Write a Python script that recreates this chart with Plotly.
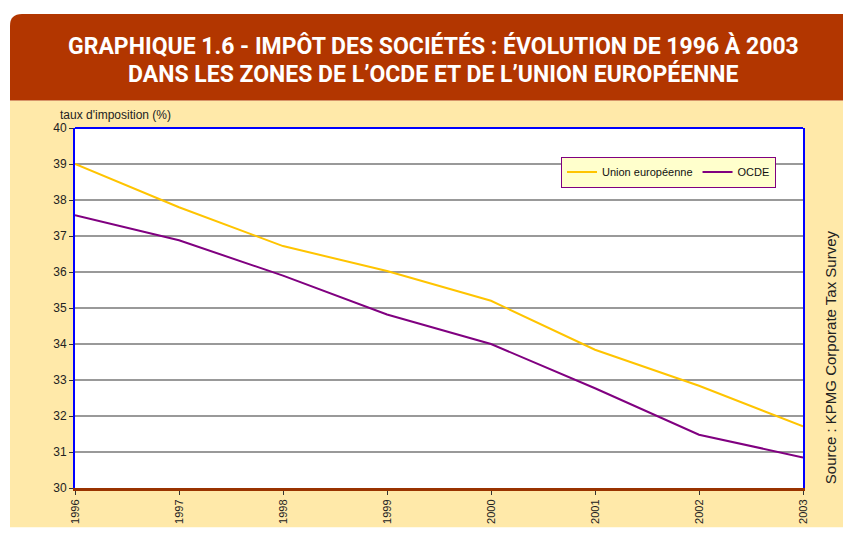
import plotly.graph_objects as go

years = [1996, 1997, 1998, 1999, 2000, 2001, 2002, 2003]
ue = [39.0, 37.8, 36.72, 36.03, 35.2, 33.84, 32.84, 31.71]
ocde = [37.58, 36.88, 35.9, 34.82, 34.0, 32.77, 31.48, 30.85]
series_names = ["Union européenne", "OCDE"]
title_lines = ["GRAPHIQUE 1.6 - IMPÔT DES SOCIÉTÉS : ÉVOLUTION DE 1996 À 2003",
               "DANS LES ZONES DE L\u2019OCDE ET DE L\u2019UNION EUROPÉENNE"]
y_title = "taux d'imposition (%)"
source_text = "Source : KPMG Corporate Tax Survey"

W, H = 843, 536
L, R, T, B = 75, 40, 128, 42
PW, PH = W - L - R, H - T - B


def px(x):
    return (x - L) / PW


def py(y):
    return (H - B - y) / PH


fig = go.Figure()
fig.add_trace(go.Scatter(x=years, y=ue, mode="lines", name=series_names[0],
                         line=dict(color="#FFC400", width=2)))
fig.add_trace(go.Scatter(x=years, y=ocde, mode="lines", name=series_names[1],
                         line=dict(color="#800080", width=2)))

shapes = []
# beige panel
shapes.append(dict(type="rect", xref="paper", yref="paper", layer="below",
                   x0=px(10), x1=px(845), y0=py(534), y1=py(100),
                   fillcolor="#FFE9A9", line=dict(width=0)))
# white plot area
shapes.append(dict(type="rect", xref="paper", yref="paper", layer="below",
                   x0=0, x1=1, y0=0, y1=1,
                   fillcolor="white", line=dict(width=0)))
# header with rounded top-left corner
r = 12
x0, x1, y0, y1 = 10, 845, 12, 100
path = (f"M {px(x0)},{py(y1)} L {px(x0)},{py(y0 + r)} "
        f"Q {px(x0)},{py(y0)} {px(x0 + r)},{py(y0)} "
        f"L {px(x1)},{py(y0)} L {px(x1)},{py(y1)} Z")
shapes.append(dict(type="path", xref="paper", yref="paper", layer="below",
                   path=path, fillcolor="#B23600", line=dict(width=0)))
# top border
shapes.append(dict(type="line", xref="paper", yref="paper", x0=0, x1=1, y0=1, y1=1,
                   line=dict(color="#0000FF", width=2)))

title_font = dict(family="Roboto, Liberation Sans, sans-serif", size=23, color="white", weight="bold")
annotations = [
    dict(text=title_lines[0], x=px(433), y=py(45), xref="paper", yref="paper",
         showarrow=False, xanchor="center", yanchor="middle", font=title_font),
    dict(text=title_lines[1], x=px(433), y=py(73), xref="paper", yref="paper",
         showarrow=False, xanchor="center", yanchor="middle", font=title_font),
    dict(text=y_title, x=px(58), y=py(115), xref="paper", yref="paper",
         showarrow=False, xanchor="left", yanchor="middle",
         font=dict(family="Liberation Sans, Arial", size=12, color="#222")),
    dict(text=source_text, x=px(830), y=py(361), xref="paper", yref="paper",
         showarrow=False, xanchor="center", yanchor="middle", textangle=-90,
         font=dict(family="Liberation Sans, Arial", size=15, color="#222")),
]

fig.update_layout(
    width=W, height=H,
    margin=dict(l=L, r=R, t=T, b=B, pad=0),
    paper_bgcolor="white",
    plot_bgcolor="white",
    shapes=shapes,
    annotations=annotations,
    showlegend=True,
    legend=dict(orientation="h", x=px(561), y=py(157), xanchor="left", yanchor="top",
                bgcolor="#FFFFCC", bordercolor="#800080", borderwidth=1,
                font=dict(family="Liberation Sans, Arial", size=11, color="#111"),
                itemwidth=30, tracegroupgap=0),
    xaxis=dict(range=[1996, 2003], tickvals=years, ticktext=[str(y) for y in years],
               tickangle=-90, showgrid=False, zeroline=False,
               showline=True, linecolor="#993300", linewidth=3,
               ticks="outside", ticklen=4, tickcolor="#333",
               tickfont=dict(family="Liberation Sans, Arial", size=11, color="#222")),
    yaxis=dict(range=[30, 40], dtick=1, showgrid=True, gridcolor="#999999", gridwidth=1.5,
               zeroline=False, showline=True, linecolor="#0000FF", linewidth=2, mirror=True,
               ticks="outside", ticklen=4, tickcolor="#333",
               tickfont=dict(family="Liberation Sans, Arial", size=12, color="#222")),
)

fig.write_html("out.html", config={"displayModeBar": False},
               post_script="document.body.style.margin='0';")
